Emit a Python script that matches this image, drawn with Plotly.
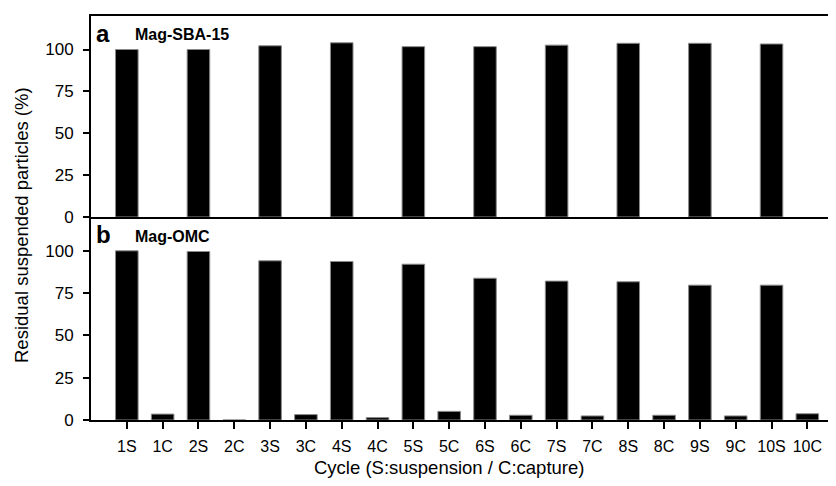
import plotly.graph_objects as go
from plotly.subplots import make_subplots

categories = ["1S", "1C", "2S", "2C", "3S", "3C", "4S", "4C", "5S", "5C",
              "6S", "6C", "7S", "7C", "8S", "8C", "9S", "9C", "10S", "10C"]
sba15_values = [100.0, None, 100.0, None, 102.2, None, 104.0, None, 101.7, None,
                101.7, None, 102.6, None, 103.7, None, 103.7, None, 103.3, None]
omc_values = [100.0, 3.5, 99.6, 0.0, 94.1, 3.2, 93.7, 1.4, 92.1, 5.1,
              83.8, 2.8, 82.1, 2.4, 81.7, 2.8, 79.7, 2.4, 79.7, 3.7]
y_ticks = [0, 25, 50, 75, 100]

FONT = "Liberation Sans, Arial, sans-serif"

fig = make_subplots(rows=2, cols=1, shared_xaxes=True, vertical_spacing=0)

fig.add_trace(go.Bar(x=categories, y=sba15_values,
                     marker=dict(color="black", line=dict(color="#8a8a8a", width=1)),
                     showlegend=False), row=1, col=1)
fig.add_trace(go.Bar(x=categories, y=omc_values,
                     marker=dict(color="black", line=dict(color="#8a8a8a", width=1)),
                     showlegend=False), row=2, col=1)

axis_common = dict(showline=True, linecolor="black", linewidth=2, showgrid=False,
                   zeroline=False)
yaxis_common = dict(range=[0, 120], tickvals=y_ticks, ticks="outside", ticklen=6,
                    tickwidth=1.5, tickcolor="black", ticklabelstandoff=6,
                    tickfont=dict(size=17), **axis_common)

# page body has an 8px margin, so the figure is 8px smaller than the window
fig.update_layout(
    width=828, height=478,
    margin=dict(l=83, r=0, t=8, b=66, autoexpand=False),
    plot_bgcolor="white", paper_bgcolor="white",
    bargap=0.37,
    font=dict(family=FONT, size=16, color="black"),
    xaxis=dict(domain=[0, 1], range=[-1, 19.8], mirror=True, showticklabels=False,
               ticks="", **axis_common),
    xaxis2=dict(domain=[0, 1], range=[-1, 19.8], ticks="outside", ticklen=7,
                tickwidth=1.5, tickcolor="black", tickfont=dict(size=16),
                ticklabelstandoff=4, **axis_common),
    yaxis=dict(domain=[0.5025, 1], **yaxis_common),
    yaxis2=dict(domain=[0, 0.5025], **yaxis_common),
)
fig.update_xaxes(categoryorder="array", categoryarray=categories)

annotations = [
    dict(text="<b>a</b>", x=94, y=33, size=24),
    dict(text="<b>Mag-SBA-15</b>", x=133, y=34, size=16),
    dict(text="<b>b</b>", x=94, y=234, size=24),
    dict(text="<b>Mag-OMC</b>", x=133, y=236, size=16),
]
for a in annotations:
    fig.add_annotation(text=a["text"], xref="paper", yref="paper",
                       x=(a["x"] - 91) / 745, y=1 - (a["y"] - 16) / 404,
                       xanchor="left", yanchor="middle", showarrow=False,
                       font=dict(family=FONT, size=a["size"], color="black"))

fig.add_annotation(text="Residual suspended particles (%)", xref="paper", yref="paper",
                   x=(21 - 91) / 745, y=1 - (225 - 16) / 404, textangle=-90,
                   xanchor="center", yanchor="middle", showarrow=False,
                   font=dict(family=FONT, size=18.5, color="black"))
fig.add_annotation(text="Cycle (S:suspension / C:capture)", xref="paper", yref="paper",
                   x=(449 - 91) / 745, y=1 - (467 - 16) / 404,
                   xanchor="center", yanchor="middle", showarrow=False,
                   font=dict(family=FONT, size=18.5, color="black"))

fig.write_html("out.html")
